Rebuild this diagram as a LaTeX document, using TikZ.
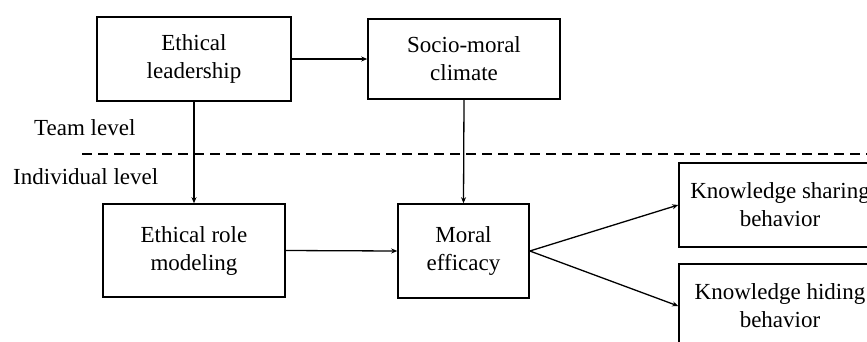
\documentclass[tikz,border=0pt]{standalone}
\usepackage{fontspec}
\setmainfont{Liberation Serif}
\usetikzlibrary{arrows.meta}
\begin{document}
\begin{tikzpicture}[x=1pt,y=-1pt,
  box/.style={draw, line width=1.6pt, inner sep=0pt, align=center,
    font=\fontsize{23}{28}\selectfont},
  link/.style={line width=1.3pt, -{Stealth[length=6pt,width=5pt]}},
  lvl/.style={anchor=west, inner sep=0pt, font=\fontsize{23}{28}\selectfont}]
  \useasboundingbox (0,0) rectangle (867,341);
  \clip (0,0) rectangle (867,341);

  % constructs
  \node[box, minimum width=194pt, minimum height=84pt] (lead) at (194,59) {Ethical\\leadership};
  \node[box, minimum width=192pt, minimum height=80pt] (climate) at (464,59) {Socio-moral\\climate};
  \node[box, minimum width=182pt, minimum height=93pt] (role) at (194,250.5) {Ethical role\\modeling};
  \node[box, minimum width=131pt, minimum height=94pt] (eff) at (463.5,251) {Moral\\efficacy};
  \node[box, minimum width=202pt, minimum height=84pt] (share) at (780,205) {Knowledge sharing\\behavior};
  \node[box, minimum width=202pt, minimum height=84pt] (hide) at (780,306) {Knowledge hiding\\behavior};

  % level separator
  \coordinate (sepL) at (82,154);
  \coordinate (sepR) at (880,154);
  \draw[line width=1.6pt, dash pattern=on 10pt off 6pt] (sepL) -- (sepR);
  \node[lvl] (team) at (34,128) {Team level};
  \node[lvl] (indiv) at (13,177) {Individual level};

  % paths
  \draw[link] (lead.east) -- (climate.west);
  \draw[link] (lead.south) -- (role.north);
  \draw[link] (climate.south) -- (eff.north);
  \draw[link] (role.east) -- (eff.west);
  \draw[link] (eff.east) -- (share.west);
  \draw[link] (eff.east) -- (hide.west);
\end{tikzpicture}
\end{document}
